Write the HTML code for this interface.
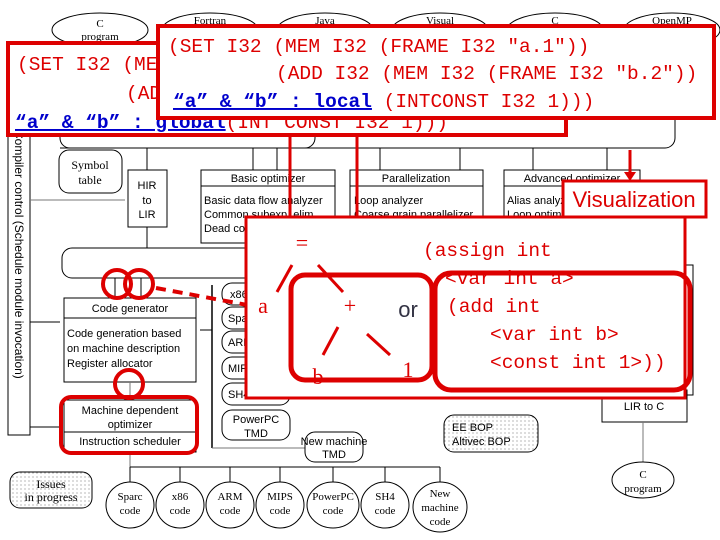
<!DOCTYPE html>
<html><head><meta charset="utf-8"><style>
html,body{margin:0;padding:0;background:#fff;width:720px;height:540px;overflow:hidden}
svg{display:block}
.s{font-family:"Liberation Sans",sans-serif;font-size:11px;fill:#000}
.sr{font-family:"Liberation Serif",serif;font-size:11px;fill:#000}
.m{font-family:"Liberation Mono","Noto Sans CJK JP",monospace;font-size:19.5px;fill:#d00}
.b{fill:#00c;text-decoration:underline}
</style></head><body>
<svg width="720" height="540" viewBox="0 0 720 540" xmlns="http://www.w3.org/2000/svg">
<defs>
<pattern id="dots" width="4" height="4" patternUnits="userSpaceOnUse"><rect width="4" height="4" fill="#fff"/><circle cx="1" cy="1" r="0.6" fill="#888"/></pattern>
</defs>
<g fill="none" stroke="#000" stroke-width="1">
<ellipse cx="100" cy="30" rx="48" ry="17" fill="#fff"/>
<ellipse cx="210" cy="30" rx="48" ry="17"/>
<ellipse cx="325" cy="30" rx="48" ry="17"/>
<ellipse cx="440" cy="30" rx="48" ry="17"/>
<ellipse cx="555" cy="30" rx="48" ry="17"/>
<ellipse cx="672" cy="30" rx="48" ry="17"/>
<rect x="60" y="110" width="255" height="38" rx="10"/>
<path d="M315 110 H665 a10 10 0 0 1 10 10 V138 a10 10 0 0 1 -10 10 H60"/>
<rect x="8" y="130" width="22" height="305" fill="#fff"/>
<rect x="59" y="150" width="63" height="43" rx="10"/>
<rect x="128" y="170" width="39" height="57"/>
<rect x="201" y="170" width="134" height="73"/><line x1="201" y1="186" x2="335" y2="186"/>
<rect x="350" y="170" width="133" height="73"/><line x1="350" y1="186" x2="483" y2="186"/>
<rect x="504" y="170" width="136" height="73"/><line x1="504" y1="186" x2="640" y2="186"/>
<rect x="62" y="248" width="618" height="30" rx="10"/>
<line x1="147" y1="148" x2="147" y2="170"/><line x1="147" y1="227" x2="147" y2="248"/>
<line x1="30" y1="200" x2="125" y2="200" stroke="#777"/>
<line x1="253" y1="148" x2="253" y2="170"/><line x1="277" y1="148" x2="277" y2="170"/>
<line x1="380" y1="148" x2="380" y2="170"/><line x1="460" y1="148" x2="460" y2="170"/>
<line x1="533" y1="148" x2="533" y2="170"/><line x1="607" y1="148" x2="607" y2="170"/>
<line x1="115" y1="278" x2="115" y2="298"/><line x1="141" y1="278" x2="141" y2="298"/>
<rect x="64" y="298" width="132" height="84"/><line x1="64" y1="318" x2="196" y2="318"/>
<line x1="30" y1="322" x2="60" y2="322"/><line x1="30" y1="427" x2="60" y2="427"/>
<line x1="130" y1="382" x2="130" y2="400" stroke="#777"/>
<rect x="64" y="400" width="132" height="52"/><line x1="64" y1="432" x2="196" y2="432"/>
<line x1="212" y1="285" x2="212" y2="448" stroke-width="1.5"/>
<line x1="212" y1="448" x2="305" y2="448" stroke="#777"/>
<line x1="200" y1="330" x2="212" y2="330"/>
<rect x="222" y="283" width="68" height="22" rx="10"/>
<rect x="222" y="307" width="68" height="22" rx="10"/>
<rect x="222" y="331" width="68" height="22" rx="10"/>
<rect x="222" y="357" width="68" height="22" rx="10"/>
<rect x="222" y="383" width="68" height="22" rx="10"/>
<rect x="222" y="410" width="68" height="30" rx="10"/>
<rect x="305" y="432" width="58" height="30" rx="10"/>
<rect x="10" y="472" width="82" height="36" rx="10" fill="url(#dots)"/>
<rect x="444" y="415" width="94" height="37" rx="10" fill="url(#dots)"/>
<line x1="130" y1="452" x2="130" y2="467" stroke="#777"/>
<line x1="130" y1="467" x2="440" y2="467"/>
<line x1="130" y1="467" x2="130" y2="482"/><line x1="180" y1="467" x2="180" y2="482"/><line x1="230" y1="467" x2="230" y2="482"/><line x1="280" y1="467" x2="280" y2="482"/><line x1="333" y1="467" x2="333" y2="482"/><line x1="385" y1="467" x2="385" y2="482"/><line x1="440" y1="467" x2="440" y2="482"/>
<ellipse cx="130" cy="505" rx="24" ry="23"/><ellipse cx="180" cy="505" rx="24" ry="23"/><ellipse cx="230" cy="505" rx="24" ry="23"/><ellipse cx="280" cy="505" rx="24" ry="23"/><ellipse cx="333" cy="505" rx="26" ry="23"/><ellipse cx="385" cy="505" rx="24" ry="23"/><ellipse cx="440" cy="507" rx="27" ry="25"/>
<rect x="602" y="390" width="85" height="32"/><rect x="686" y="265" width="7" height="130"/>
<line x1="643" y1="422" x2="643" y2="462" stroke="#777"/>
<ellipse cx="643" cy="480" rx="31" ry="18"/>
</g>
<g class="sr" text-anchor="middle">
<text x="100" y="27">C</text><text x="100" y="40">program</text>
<text x="210" y="24">Fortran</text><text x="325" y="24">Java</text><text x="440" y="24">Visual</text><text x="555" y="24">C</text><text x="672" y="24">OpenMP</text>
<text x="90" y="169" font-size="12">Symbol</text><text x="90" y="184" font-size="12">table</text>
<text x="51" y="488" font-size="12">Issues</text>
<text x="51" y="501" font-size="12">in progress</text>
<text x="130" y="500">Sparc</text><text x="130" y="514">code</text>
<text x="180" y="500">x86</text><text x="180" y="514">code</text>
<text x="230" y="500">ARM</text><text x="230" y="514">code</text>
<text x="280" y="500">MIPS</text><text x="280" y="514">code</text>
<text x="333" y="500">PowerPC</text><text x="333" y="514">code</text>
<text x="385" y="500">SH4</text><text x="385" y="514">code</text>
<text x="440" y="497">New</text><text x="440" y="511">machine</text><text x="440" y="525">code</text>
<text x="643" y="478">C</text><text x="643" y="492">program</text>
</g>
<g class="s">
<text x="147" y="189" text-anchor="middle">HIR</text><text x="147" y="204" text-anchor="middle">to</text><text x="147" y="218" text-anchor="middle">LIR</text>
<text x="268" y="182" text-anchor="middle">Basic optimizer</text>
<text x="204" y="204">Basic data flow analyzer</text><text x="204" y="218">Common subexp. elim.</text><text x="204" y="232">Dead code elim.</text>
<text x="416" y="182" text-anchor="middle">Parallelization</text><text x="354" y="204">Loop analyzer</text><text x="354" y="218">Coarse grain parallelizer</text>
<text x="572" y="182" text-anchor="middle">Advanced optimizer</text><text x="507" y="204">Alias analyzer</text><text x="507" y="218">Loop optimizer</text>
<text x="130" y="312" text-anchor="middle">Code generator</text>
<text x="67" y="337">Code generation based</text><text x="67" y="352">on machine description</text><text x="67" y="367">Register allocator</text>
<text x="130" y="414" text-anchor="middle">Machine dependent</text><text x="130" y="428" text-anchor="middle">optimizer</text><text x="130" y="445" text-anchor="middle">Instruction scheduler</text>
<text x="230" y="298">x86</text><text x="228" y="322">Sparc</text><text x="228" y="346">ARM</text><text x="228" y="372">MIPS</text><text x="228" y="398">SH4</text>
<text x="256" y="423" text-anchor="middle">PowerPC</text><text x="256" y="437" text-anchor="middle">TMD</text>
<text x="334" y="445" text-anchor="middle">New machine</text><text x="334" y="458" text-anchor="middle">TMD</text>
<text x="452" y="431">EE BOP</text><text x="452" y="445">Altivec BOP</text>
<text x="644" y="410" text-anchor="middle">LIR to C</text>
<text transform="translate(15,130) rotate(90)" font-size="12">Compiler control (Schedule module invocation)</text>
</g>
<g fill="none" stroke="#d00">
<line x1="290" y1="135" x2="290" y2="216" stroke-width="3"/>
<line x1="357" y1="118" x2="357" y2="216" stroke-width="3"/>
<line x1="630" y1="150" x2="630" y2="175" stroke-width="3"/>
<circle cx="117" cy="284" r="14" stroke-width="4"/><circle cx="139" cy="284" r="14" stroke-width="4"/>
<circle cx="129" cy="384" r="14" stroke-width="4"/>
<rect x="61" y="397" width="136" height="56" rx="10" stroke-width="4"/>
<line x1="156" y1="288" x2="285" y2="312" stroke-width="4" stroke-dasharray="10,7"/>
</g>
<path d="M624 172 L636 172 L630 181 Z" fill="#d00"/>
<rect x="8" y="43" width="558" height="92" fill="#fff" stroke="#d00" stroke-width="4"/>
<text class="m" x="17" y="70">(SET I32 (ME</text>
<text class="m" x="126" y="99">(AD</text>
<text class="m" x="15" y="128"><tspan class="b" font-weight="bold">“a” &amp; “b” : global</tspan>(INT CONST I32 1)))</text>
<rect x="158" y="26" width="556" height="92" fill="#fff" stroke="#d00" stroke-width="4"/>
<text class="m" x="168" y="52">(SET I32 (MEM I32 (FRAME I32 ″a.1″))</text>
<text class="m" x="276" y="79">(ADD I32 (MEM I32 (FRAME I32 ″b.2″))</text>
<text class="m" x="173" y="107"><tspan class="b" font-weight="bold">“a” &amp; “b” : local</tspan> (INTCONST I32 1)))</text>
<rect x="563" y="181" width="143" height="36" fill="#fff" stroke="#d00" stroke-width="3"/>
<text x="634" y="207" text-anchor="middle" font-family="Liberation Sans,sans-serif" font-size="22" fill="#d00">Visualization</text>
<rect x="246" y="217" width="439" height="181" fill="#fff" stroke="#d00" stroke-width="3"/>
<rect x="291" y="275" width="141" height="105" rx="14" fill="none" stroke="#d00" stroke-width="5"/>
<rect x="435" y="273" width="255" height="117" rx="16" fill="none" stroke="#d00" stroke-width="5"/>
<g stroke="#d00" stroke-width="3">
<line x1="277" y1="292" x2="292" y2="265"/><line x1="318" y1="265" x2="343" y2="292"/>
<line x1="323" y1="355" x2="338" y2="327"/><line x1="367" y1="334" x2="390" y2="355"/>
</g>
<g font-family="Liberation Serif,serif" font-size="22" fill="#d00" text-anchor="middle">
<text x="302" y="250">=</text><text x="263" y="313">a</text><text x="350" y="313">+</text><text x="318" y="384">b</text><text x="408" y="377">1</text>
</g>
<text x="408" y="317" text-anchor="middle" font-family="Liberation Sans,sans-serif" font-size="22" fill="#334">or</text>
<text class="m" x="423" y="256">(assign int</text>
<text class="m" x="445" y="284">&lt;var int a&gt;</text>
<text class="m" x="447" y="312">(add int</text>
<text class="m" x="490" y="340">&lt;var int b&gt;</text>
<text class="m" x="490" y="368">&lt;const int 1&gt;))</text>
</svg>
</body></html>
